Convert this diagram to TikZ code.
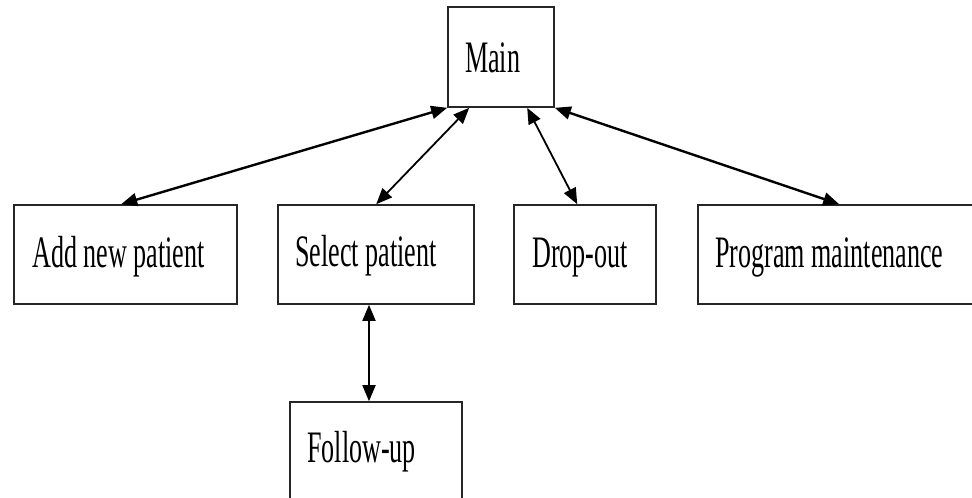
\documentclass[tikz,border=0pt]{standalone}
\usepackage{fontspec}
\newfontfamily\diagfont[FakeStretch=0.58]{Liberation Serif}
\usetikzlibrary{arrows.meta,calc}
\begin{document}
\begin{tikzpicture}[x=1pt,y=-1pt,
  box/.style={draw=black!85, line width=1.6pt, inner sep=0pt, rectangle},
  lbl/.style={anchor=base west, inner sep=0pt, font=\diagfont\fontsize{45}{50}\selectfont},
  link/.style={line width=2.4pt, {Triangle[length=16pt,width=13pt]}-{Triangle[length=16pt,width=13pt]}},
  thin link/.style={link, line width=1.8pt}]
\useasboundingbox (0,0) rectangle (972,498);
\clip (0,0) rectangle (972,498);
% boxes
\node[box, minimum width=106pt, minimum height=100pt] (main) at (501,57) {};
\node[box, minimum width=223pt, minimum height=99pt] (add) at (125.5,254.5) {};
\node[box, minimum width=196pt, minimum height=99pt] (select) at (376,254.5) {};
\node[box, minimum width=142pt, minimum height=99pt] (drop) at (585,254.5) {};
\node[box, minimum width=292pt, minimum height=99pt] (prog) at (844,254.5) {};
\node[box, minimum width=172pt, minimum height=118pt] (follow) at (376,461) {};
% labels
\node[lbl] (tmain) at (465,72) {Main};
\node[lbl] (tadd) at (32,267) {Add new patient};
\node[lbl] (tselect) at (295,266) {Select patient};
\node[lbl] (tdrop) at (532,267) {Drop-out};
\node[lbl] (tprog) at (715,267) {Program maintenance};
\node[lbl] (tfollow) at (307,462) {Follow-up};
% connectors
\draw[link] (main.south west) -- ([xshift=108pt]add.north west);
\draw[thin link] ([xshift=22pt]main.south west) -- ([xshift=99pt]select.north west);
\draw[thin link] ([xshift=80pt]main.south west) -- ([xshift=64pt]drop.north west);
\draw[link] (main.south east) -- ([xshift=142pt]prog.north west);
\draw[thin link] ([xshift=-7pt]select.south) -- ([xshift=-7pt]follow.north);
\end{tikzpicture}
\end{document}
